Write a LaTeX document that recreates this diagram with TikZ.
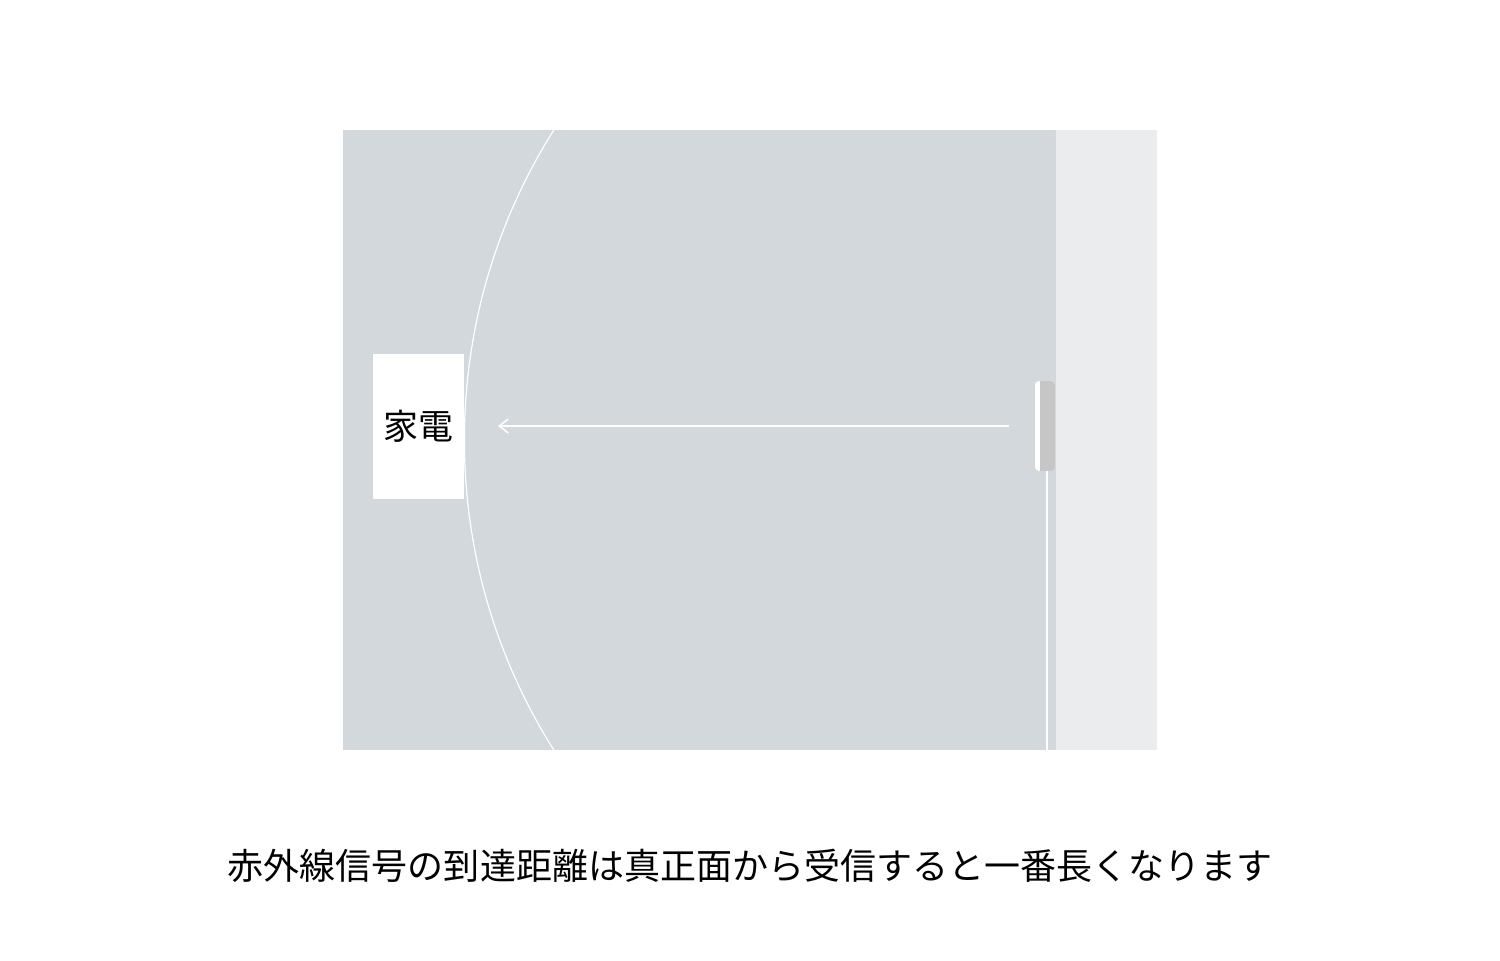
\documentclass[tikz,border=0pt]{standalone}
\usepackage{fontspec}
\setmainfont{Noto Sans CJK JP}
\usetikzlibrary{arrows.meta}
\definecolor{roomgray}{HTML}{D3D8DC}
\definecolor{panelgray}{HTML}{EBECEE}
\definecolor{devgray}{HTML}{C6C6C6}
\tikzset{
  wline/.style={draw=white, line width=1.5bp},
  jtext/.style={font=\fontsize{36bp}{40bp}\selectfont, text=black, inner sep=0pt}
}
\begin{document}
\begin{tikzpicture}[x=1bp,y=-1bp]
\useasboundingbox (0,0) rectangle (1500,960);
\fill[white] (0,0) rectangle (1500,960);
% room and side panel
\fill[roomgray] (343,130) rectangle (1056,750);
\fill[panelgray] (1056,130) rectangle (1157,750);
% reach arc (circle centred at (1046,440))
\begin{scope}
  \clip (343,130) rectangle (1056,750);
  \draw[draw=white, line width=1.2bp] (1046,440) circle [radius=581.6];
\end{scope}
% appliance box
\node[fill=white, minimum width=91bp, minimum height=145bp, inner sep=0pt, anchor=north west] (box) at (373,354) {};
\node[jtext, font=\fontsize{35bp}{40bp}\selectfont] (kaden) at (box.center) {家電};
% remote device
\fill[white, rounded corners=4bp] (1035,381) rectangle (1055,471);
\begin{scope}
  \clip (1040,370) rectangle (1060,480);
  \fill[devgray, rounded corners=4bp] (1035,381) rectangle (1055,471);
\end{scope}
\node[minimum width=20bp, minimum height=90bp, inner sep=0pt] (dev) at (1045,426) {};
\coordinate (cable) at (1047,750);
\draw[draw=white, line width=2bp] (1047,471) -- (cable);
% arrow
\coordinate (start) at (1009,426);
\coordinate (tip) at (498,426);
\draw[wline, -{Straight Barb[length=9bp,width=14bp,line width=1.5bp]}] (start) -- (tip);
% caption
\node[jtext, anchor=center] (caption) at (750,866) {赤外線信号の到達距離は真正面から受信すると一番長くなります};
\end{tikzpicture}
\end{document}
